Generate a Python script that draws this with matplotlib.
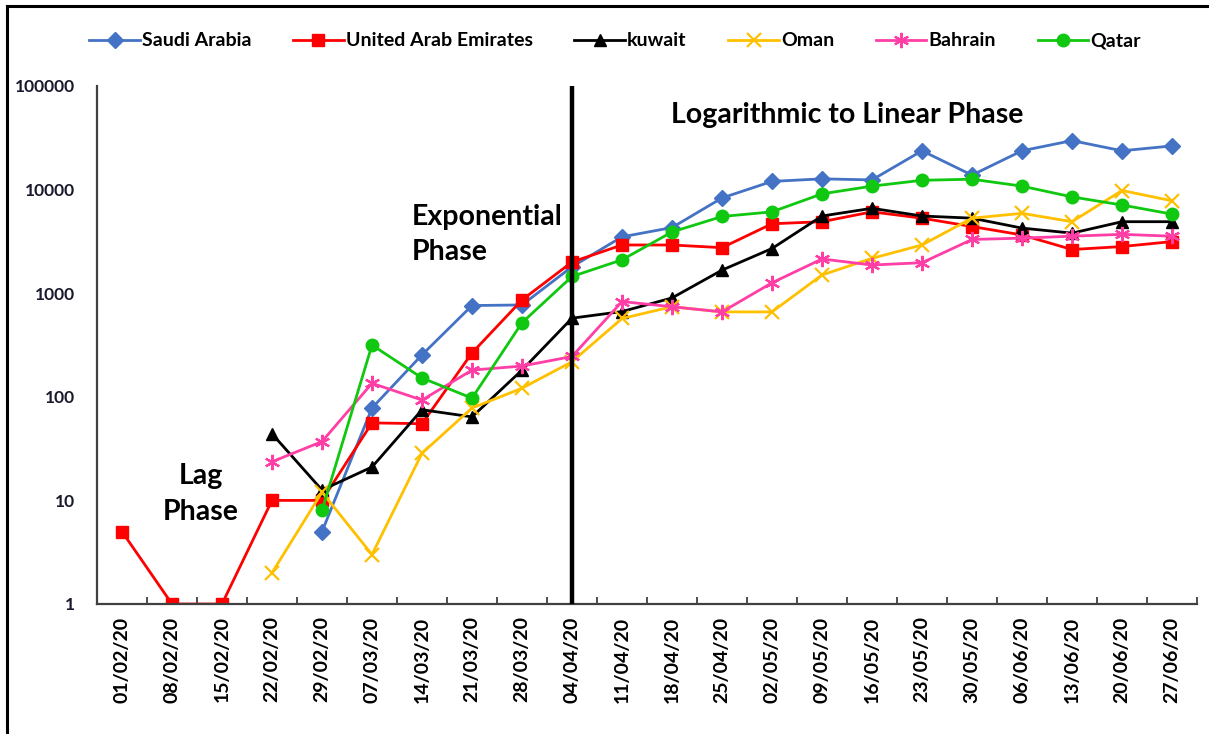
import numpy as np
import matplotlib
matplotlib.use("Agg")
import matplotlib.pyplot as plt
from matplotlib.lines import Line2D
from matplotlib.ticker import FixedLocator, NullFormatter

plt.rcParams['font.family'] = ['Lato', 'DejaVu Sans']

nan = np.nan
dates = ['01/02/20', '08/02/20', '15/02/20', '22/02/20', '29/02/20', '07/03/20',
         '14/03/20', '21/03/20', '28/03/20', '04/04/20', '11/04/20', '18/04/20',
         '25/04/20', '02/05/20', '09/05/20', '16/05/20', '23/05/20', '30/05/20',
         '06/06/20', '13/06/20', '20/06/20', '27/06/20']

saudi = [nan, nan, nan, nan, 5, 78, 254, 760, 770, 1800, 3500, 4300, 8300, 12000,
         12700, 12400, 23700, 13800, 23700, 29700, 23700, 26400]
uae = [5, 1, 1, 10, 10, 56, 55, 265, 860, 2000, 2920, 2920, 2750, 4680, 4900, 6100,
       5300, 4400, 3650, 2640, 2820, 3150]
kuwait = [nan, nan, nan, 44, 12.6, 21, 75, 64, 181, 574, 665, 900, 1670, 2700, 5560,
          6600, 5560, 5300, 4250, 3800, 4900, 4900]
oman = [nan, nan, nan, 2, 12, 3, 28.5, 78, 121, 218, 570, 740, 660, 660, 1500, 2170,
        2920, 5300, 5900, 4900, 9800, 7800]
bahrain = [nan, nan, nan, 23.6, 37, 135, 93, 181, 198, 245, 830, 740, 660, 1260, 2140,
           1870, 1970, 3300, 3400, 3550, 3700, 3550]
qatar = [nan, nan, nan, nan, 8, 316, 152, 97, 519, 1450, 2100, 3900, 5500, 6100, 9100,
         10800, 12300, 12600, 10800, 8500, 7100, 5800]

series = [
    ("Saudi Arabia", saudi, "#4472C4", "D", 8),
    ("United Arab Emirates", uae, "#FF0000", "s", 8.5),
    ("kuwait", kuwait, "#000000", "^", 9),
    ("Oman", oman, "#FFC000", "x", 10),
    ("Bahrain", bahrain, "#FF3FA6", (6, 2, 0), 11),
    ("Qatar", qatar, "#10C810", "o", 9),
]

fig = plt.figure(figsize=(12.09, 7.34), dpi=100)
ax = fig.add_axes([97 / 1209, 1 - 604 / 734, 1100 / 1209, 518 / 734])

x = np.arange(len(dates))
for name, vals, col, mk, ms in series:
    ax.plot(x, vals, color=col, marker=mk, markersize=ms, linewidth=2.0,
            markeredgewidth=1.6 if mk in ("x", (6, 2, 0)) else 1.0,
            markeredgecolor=col, label=name)

ax.axvline(9, color='black', linewidth=3.2, zorder=5)

ax.set_yscale('log')
ax.set_ylim(1, 100000)
ax.set_xlim(-0.5, len(dates) - 0.5)

ax.yaxis.set_major_locator(FixedLocator([1, 10, 100, 1000, 10000, 100000]))
ax.yaxis.set_minor_locator(FixedLocator([]))
ax.set_yticklabels(['1', '10', '100', '1000', '10000', '100000'])
ax.tick_params(axis='y', length=0, pad=16, labelsize=12.5, labelcolor='#1a1a2e')
for lbl in ax.get_yticklabels():
    lbl.set_fontweight('bold')

ax.set_xticks(x)
ax.set_xticklabels(dates, rotation=90, fontsize=14, fontweight='bold')
ax.xaxis.set_minor_locator(FixedLocator(np.arange(-0.5, len(dates), 1.0)))
ax.xaxis.set_minor_formatter(NullFormatter())
ax.tick_params(axis='x', which='major', length=0, pad=9)
ax.tick_params(axis='x', which='minor', length=5, direction='in', width=1.3, color='#404040')

for s in ['top', 'right']:
    ax.spines[s].set_visible(False)
for s in ['left', 'bottom']:
    ax.spines[s].set_color('#404040')
    ax.spines[s].set_linewidth(1.6)

ax.text(1.58, 11.5, 'Lag\nPhase', ha='center', va='center', fontsize=20.5,
        fontweight='bold', linespacing=1.45)
ax.text(5.79, 3700, 'Exponential\nPhase', ha='left', va='center', fontsize=20.5,
        fontweight='bold', linespacing=1.45)
ax.text(14.5, 52500, 'Logarithmic to Linear Phase', ha='center', va='center',
        fontsize=20.5, fontweight='bold')

fig.legend(loc='center', bbox_to_anchor=(615 / 1209, 1 - 41 / 734), ncol=6,
           frameon=False, prop={'size': 14, 'weight': 'bold'}, handlelength=2.6,
           columnspacing=2.15, handletextpad=0.1)

fig.add_artist(Line2D([7 / 1209, 7 / 1209], [0, 1 - 6 / 734], color='black',
                      linewidth=2.2, transform=fig.transFigure))
fig.add_artist(Line2D([7 / 1209, 1], [1 - 6 / 734, 1 - 6 / 734], color='black',
                      linewidth=2.2, transform=fig.transFigure))

fig.savefig('out.png', dpi=100)
